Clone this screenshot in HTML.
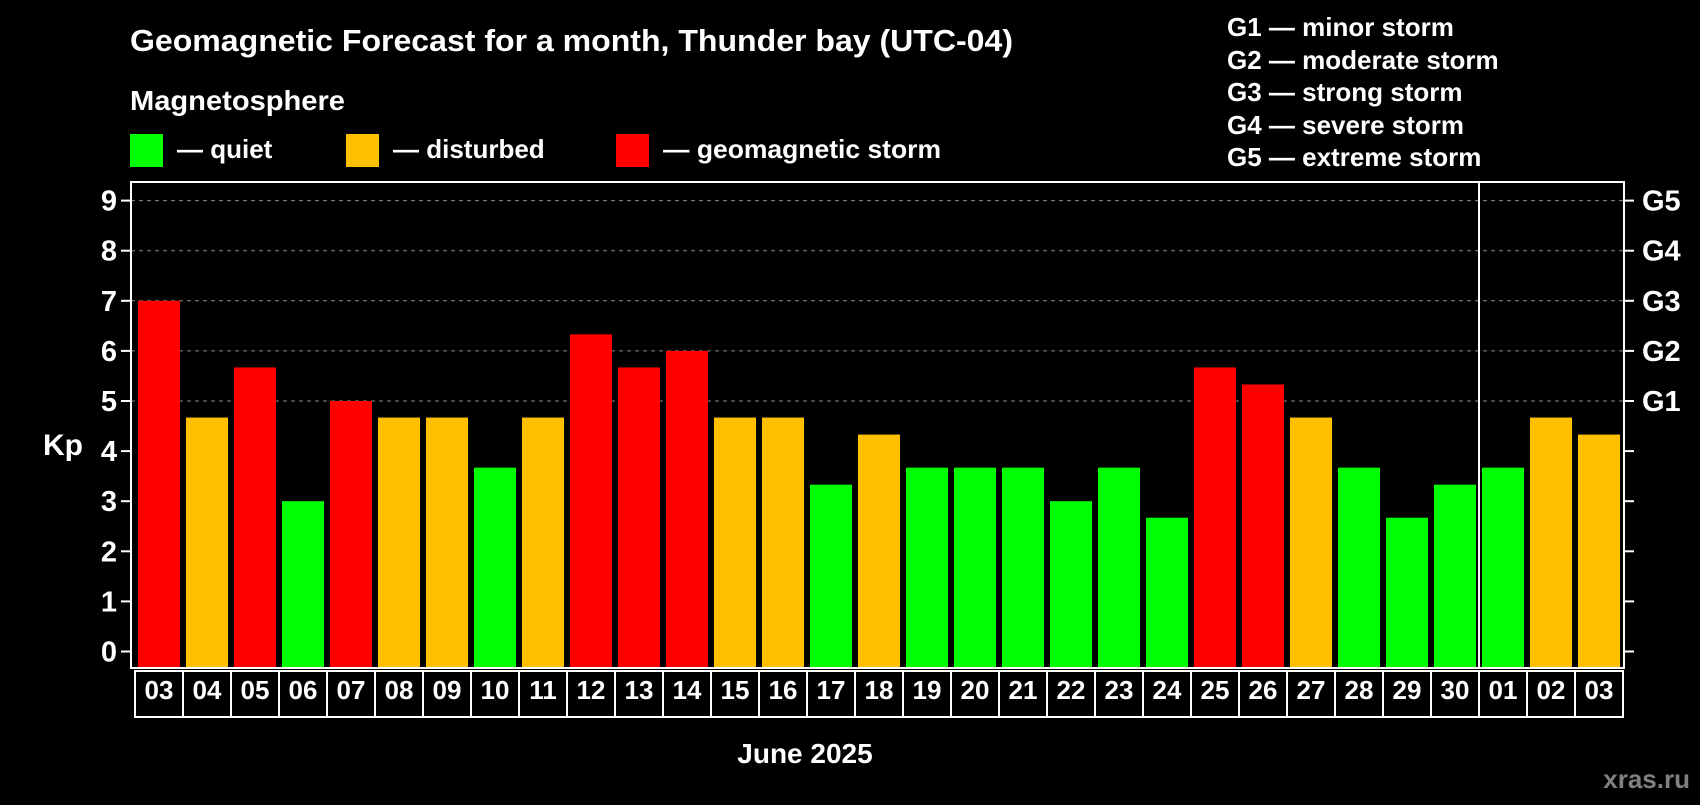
<!DOCTYPE html>
<html><head><meta charset="utf-8"><style>
body{margin:0;background:#000;width:1700px;height:800px;overflow:hidden;font-family:"Liberation Sans",sans-serif;}
svg text{font-family:"Liberation Sans",sans-serif;font-weight:bold;fill:#fff;}
</style></head><body>
<svg id="chart" width="1700" height="800" xmlns="http://www.w3.org/2000/svg">
<text x="130" y="51" font-size="31" textLength="883" lengthAdjust="spacingAndGlyphs">Geomagnetic Forecast for a month, Thunder bay (UTC-04)</text>
<text x="130" y="110" font-size="28" textLength="215" lengthAdjust="spacingAndGlyphs">Magnetosphere</text>
<g><rect x="130" y="134" width="33" height="33" fill="#00ff00"/><text x="177" y="158" font-size="26">— quiet</text></g>
<g><rect x="346" y="134" width="33" height="33" fill="#ffc000"/><text x="393" y="158" font-size="26">— disturbed</text></g>
<g><rect x="616" y="134" width="33" height="33" fill="#ff0000"/><text x="663" y="158" font-size="26" textLength="278" lengthAdjust="spacingAndGlyphs">— geomagnetic storm</text></g>
<g font-size="26">
<text x="1227" y="36">G1 — minor storm</text>
<text x="1227" y="69">G2 — moderate storm</text>
<text x="1227" y="101">G3 — strong storm</text>
<text x="1227" y="134">G4 — severe storm</text>
<text x="1227" y="166">G5 — extreme storm</text>
</g>
<text x="43" y="455" font-size="30">Kp</text>
<text x="805" y="763" font-size="28" text-anchor="middle">June 2025</text>
<text x="1690" y="788" font-size="26" text-anchor="end" style="fill:#808080">xras.ru</text>
<g id="grid"></g><g id="bars"></g><g id="axes"></g>
</svg>
<script>
const days=["03","04","05","06","07","08","09","10","11","12","13","14","15","16","17","18","19","20","21","22","23","24","25","26","27","28","29","30","01","02","03"];
const kp=[7,4.67,5.67,3,5,4.67,4.67,3.67,4.67,6.33,5.67,6,4.67,4.67,3.33,4.33,3.67,3.67,3.67,3,3.67,2.67,5.67,5.33,4.67,3.67,2.67,3.33,3.67,4.67,4.33];
const yTicks=[0,1,2,3,4,5,6,7,8,9];
const gLabels=["G1","G2","G3","G4","G5"];
const gLevels=[5,6,7,8,9];
const monthBreak=28;
const NS="http://www.w3.org/2000/svg";
const L=131,R=1624,T=182,B=668,slot=48,x0=134;
const y=v=>651.5-v*50.1;
const x=i=>x0+i*slot;
function mk(t,a,p){const e=document.createElementNS(NS,t);for(const k in a)e.setAttribute(k,a[k]);p.appendChild(e);return e;}
const grid=document.getElementById('grid'),bars=document.getElementById('bars'),axes=document.getElementById('axes');
gLevels.forEach(v=>{const l=mk('line',{x1:L,x2:R,y1:y(v),y2:y(v),stroke:'#888','stroke-dasharray':'4,4','stroke-width':1},grid);

});
kp.forEach((v,i)=>{const c=v>=5?'#ff0000':(v>=4?'#ffc000':'#00ff00');
const r=mk('rect',{x:x(i)+4,y:y(v),width:42,height:B-y(v),fill:c},bars);


const b=mk('rect',{x:x(i)+1,y:671,width:48,height:46,fill:'none',stroke:'#fff','stroke-width':2},axes);


const t=mk('text',{x:x(i)+25,y:699,'font-size':26,'text-anchor':'middle'},axes);t.textContent=days[i];

});
const f=mk('rect',{x:L,y:T,width:R-L,height:B-T,fill:'none',stroke:'#fff','stroke-width':2},axes);


const s=mk('line',{x1:x(monthBreak)+1,x2:x(monthBreak)+1,y1:T,y2:B,stroke:'#fff','stroke-width':2},axes);


yTicks.forEach(v=>{mk('line',{x1:121,x2:L,y1:y(v),y2:y(v),stroke:'#fff','stroke-width':2},axes);
mk('line',{x1:R,x2:1634,y1:y(v),y2:y(v),stroke:'#fff','stroke-width':2},axes);
const t=mk('text',{x:117,y:y(v)+10,'font-size':29,'text-anchor':'end'},axes);t.textContent=v;

});
gLabels.forEach((g,i)=>{const t=mk('text',{x:1642,y:y(gLevels[i])+10,'font-size':29},axes);t.textContent=g;

});
</script>
</body></html>
